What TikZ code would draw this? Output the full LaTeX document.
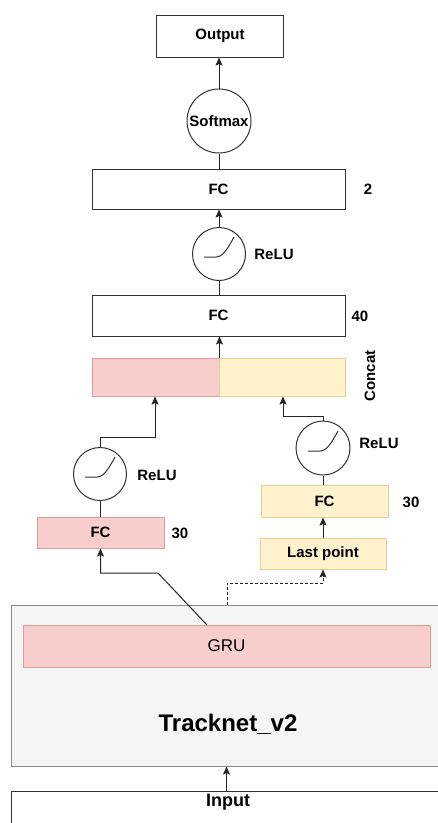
\documentclass[tikz,border=0pt]{standalone}
\usepackage{fontspec}
\setmainfont{Liberation Sans}
\usetikzlibrary{arrows.meta,calc}

\definecolor{redfill}{HTML}{F8CECC}
\definecolor{redline}{HTML}{DE9C99}
\definecolor{yelfill}{HTML}{FFF2CC}
\definecolor{yelline}{HTML}{E6CF90}
\definecolor{grayfill}{HTML}{F5F5F5}
\definecolor{grayline}{HTML}{8A8A8A}

\tikzset{
  lbl/.style={font=\fontsize{15}{18}\selectfont\bfseries, inner sep=0pt},
  box/.style={draw=black!80, line width=1pt, fill=white, inner sep=0pt,
    font=\fontsize{15}{18}\selectfont\bfseries},
  redbox/.style={box, draw=redline, fill=redfill},
  yelbox/.style={box, draw=yelline, fill=yelfill},
  actcircle/.style={circle, draw=black!80, line width=1pt, fill=white,
    inner sep=0pt, font=\fontsize{15}{18}\selectfont\bfseries},
  conn/.style={draw=black!85, line width=1pt},
  arr/.style={conn, -{Stealth[length=8pt,width=7pt,inset=1.5pt]}},
}

% ReLU glyph drawn inside a circle node
\newcommand{\relucurve}[1]{%
  \draw[line width=1pt, black!80] ($(#1)+(-15,3)$) -- ($(#1)+(-3,3)$)
    .. controls ($(#1)+(4,3)$) and ($(#1)+(9,-6)$) .. ($(#1)+(15,-17)$);}

\begin{document}
\begin{tikzpicture}[x=1pt,y=-1pt]
\useasboundingbox (0,0) rectangle (438,823);
\fill[white] (0,0) rectangle (438,823);
\clip (0,0) rectangle (438,823);

% --- output head ---
\node[box, minimum width=127, minimum height=42] (out) at (220,36) {Output};
\node[actcircle, minimum size=64] (softmax) at (219,121) {Softmax};
\node[box, minimum width=253, minimum height=40] (fc2) at (218.5,189) {FC};
\node[lbl] (n2) at (368,189) {2};
\node[actcircle, minimum size=53] (relu1) at (219,254) {};
\relucurve{relu1}
\node[lbl] (r1) at (274,254) {ReLU};
\node[box, minimum width=253, minimum height=41] (fc40) at (218.5,315.5) {FC};
\node[lbl] (n40) at (360,316) {40};

% --- concatenation ---
\node[redbox, minimum width=127, minimum height=38] (concatL) at (155.5,377) {};
\node[yelbox, minimum width=126, minimum height=38] (concatR) at (282,377) {};
\node[lbl, rotate=90] (cc) at (370,376) {Concat};

% --- left branch ---
\node[actcircle, minimum size=53] (relu2) at (100,474) {};
\relucurve{relu2}
\node[lbl] (r2) at (157,475) {ReLU};
\node[redbox, minimum width=127, minimum height=31] (fcL) at (100.5,532.5) {FC};
\node[lbl] (n30a) at (180,533) {30};

% --- right branch ---
\node[actcircle, minimum size=54] (relu3) at (323,448) {};
\relucurve{relu3}
\node[lbl] (r3) at (379,443) {ReLU};
\node[yelbox, minimum width=127, minimum height=32] (fcR) at (324.5,501) {FC};
\node[lbl] (n30b) at (411,502) {30};
\node[yelbox, minimum width=126, minimum height=31] (last) at (323,553.5) {Last point};

% --- backbone ---
\node[draw=grayline, fill=grayfill, line width=1pt, minimum width=434,
  minimum height=161, inner sep=0pt] (track) at (228,685.5) {};
\node[redbox, minimum width=407, minimum height=42,
  font=\fontsize{17}{20}\selectfont] (gru) at (226.5,646) {GRU};
\node[font=\fontsize{24}{28}\selectfont\bfseries, inner sep=0pt] (tn) at (228,724) {Tracknet\_v2};
\node[box, minimum width=434, minimum height=50] (input) at (228,816) {};
\node[font=\fontsize{18}{21}\selectfont\bfseries, inner sep=0pt] (inlbl) at (228,802) {Input};

% --- connectors ---
\draw[arr] (softmax.north) -- (softmax.north |- out.south);
\draw[conn] (fc2.north -| softmax) -- (softmax.south);
\draw[arr] (relu1.north) -- (relu1.north |- fc2.south);
\draw[conn] (fc40.north -| relu1) -- (relu1.south);
\draw[arr] (concatL.north east) -- (concatL.north east |- fc40.south);

\coordinate (jl) at (155,437);
\draw[arr] (relu2.north) |- (jl) -- (jl |- concatL.south);
\draw[conn] (fcL.north -| relu2) -- (relu2.south);

\coordinate (jr) at (283,416);
\draw[arr] (relu3.north) |- (jr) -- (jr |- concatR.south);
\draw[conn] (fcR.north -| relu3) -- (relu3.south);
\draw[arr] (last.north) -- (last.north |- fcR.south);

\coordinate (gtap) at (207,625);
\coordinate (gbend) at (158,573);
\draw[arr] (gtap) -- (gbend) -| (fcL.south);

\coordinate (dtap) at (227,605);
\coordinate (dbend) at (227,583);
\draw[arr, dash pattern=on 3pt off 2pt, line width=0.9pt] (dtap) -- (dbend) -| (last.south);

\draw[arr] (input.north -| gru) -- (track.south -| gru);
\end{tikzpicture}
\end{document}
